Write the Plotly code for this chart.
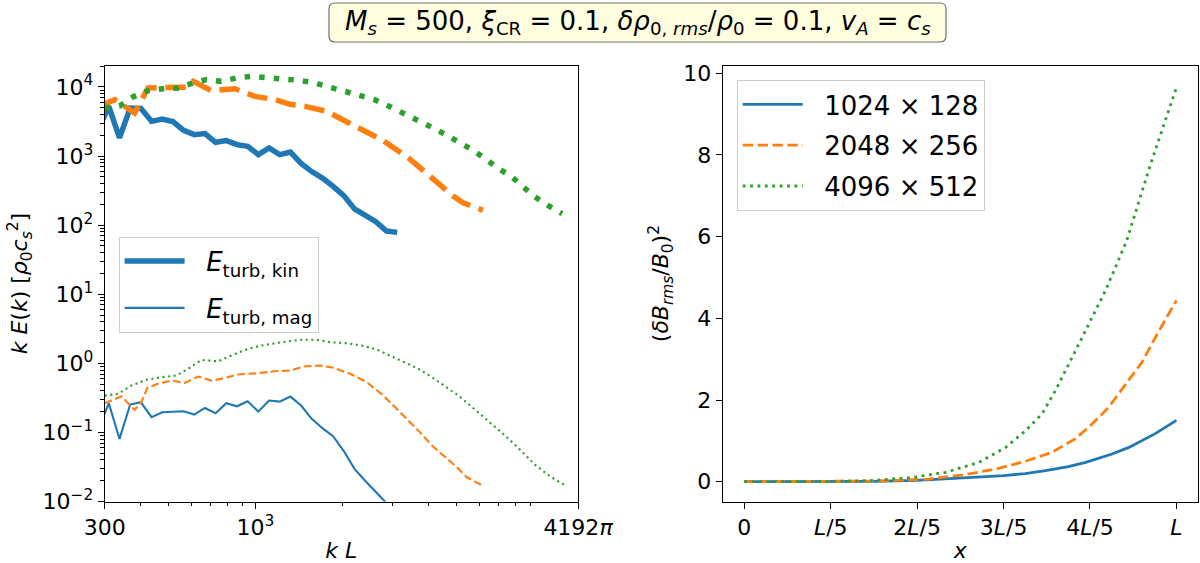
import math
import plotly.graph_objects as go

# ---------------- data: left panel (spectra) ----------------
k_1024 = [284.6, 310, 337.6, 367.7, 400.5, 436.2, 475.0, 517.3, 563.4, 613.6, 668.3, 727.8,
          792.7, 863.3, 940.2, 1024.0, 1115.2, 1214.6, 1322.8, 1440.7, 1569.1, 1708.9,
          1861.2, 2027.0, 2207.6, 2404.3, 2618.5, 2851.8, 3105.9]
ekin_1024 = [2400, 5240, 1830, 4950, 4900, 3180, 3440, 3150, 2350, 2040, 2110, 1580,
             1670, 1460, 1380, 1047, 1310, 1050, 1140, 780, 596, 480,
             364, 268, 172, 141, 112, 82, 78.5]
emag_1024 = [0.11, 0.264, 0.0805, 0.253, 0.273, 0.166, 0.196, 0.2, 0.202, 0.181, 0.226, 0.189,
             0.264, 0.239, 0.282, 0.2, 0.289, 0.279, 0.33, 0.245, 0.157, 0.115,
             0.088, 0.0538, 0.0297, 0.02, 0.0137, 0.0094, 0.0065]

k_kin_2048 = [285, 325, 381, 424, 500, 575, 608, 703, 848, 995, 1168, 1320, 1488, 1770,
              2219, 2747, 3399, 4150, 4869, 5276, 6162]
ekin_2048 = [5200, 6550, 4200, 9680, 9850, 9900, 12050, 8840, 9440, 7310, 6550, 5600, 5240, 4436,
             2692, 1726, 940, 455, 261, 209, 164]
k_mag_2048 = [300, 343, 381, 402, 422, 459, 511, 569, 633, 704, 762, 871, 1022, 1167, 1320,
              1469, 1677, 1866, 2133, 2437, 2783, 3097, 3396, 3732, 4099, 4497, 4937, 5420, 6061]
emag_2048 = [0.264, 0.333, 0.212, 0.273, 0.442, 0.505, 0.563, 0.521, 0.644, 0.563, 0.596, 0.689,
             0.719, 0.769, 0.786, 0.9, 0.93, 0.861, 0.705, 0.532, 0.341, 0.219, 0.148, 0.1,
             0.0644, 0.0461, 0.033, 0.0224, 0.0175]

k_kin_4096 = [300, 338, 376, 424, 478, 539, 608, 676, 762, 859, 969, 1107, 1248, 1422, 1603,
              1807, 2037, 2297, 2590, 2912, 3266, 3634, 4074, 4529, 5069, 5642, 6273, 6924,
              7720, 8462, 9277, 10330, 11600]
ekin_4096 = [4965, 5300, 7160, 8840, 9440, 9680, 11430, 12760, 12050, 13490, 14230, 13770, 13180,
             12470, 11430, 9870, 8630, 7550, 6550, 5240, 4207, 3365, 2636, 2088, 1634, 1239,
             917, 673, 508, 365, 261, 194, 146.6]
k_mag_4096 = [300, 334, 371, 418, 472, 532, 584, 650, 743, 825, 943, 1049, 1199, 1352, 1430,
              1634, 1817, 2077, 2341, 2640, 2977, 3310, 3681, 4099, 4557, 5069, 5566, 6110,
              6706, 7423, 8337, 9419, 10645, 11953]
emag_4096 = [0.341, 0.361, 0.477, 0.577, 0.629, 0.666, 0.832, 1.12, 1.07, 1.3, 1.62, 1.81, 1.98,
             2.09, 2.19, 2.19, 2.02, 1.95, 1.81, 1.58, 1.26, 1.04, 0.832, 0.629, 0.461, 0.341,
             0.245, 0.175, 0.1255, 0.0869, 0.055, 0.033, 0.0224, 0.0169]

# ---------------- data: right panel (dB^2 vs x, x in units of L) ----------------
x_1024 = [0, 0.1, 0.2, 0.3, 0.4, 0.466, 0.55, 0.601, 0.65, 0.697, 0.75, 0.79, 0.851, 0.89, 0.95, 1.0]
db_1024 = [0, 0, 0.002, 0.008, 0.03, 0.065, 0.11, 0.147, 0.2, 0.27, 0.37, 0.473, 0.678, 0.84, 1.17, 1.5]
x_2048 = [0, 0.1, 0.2, 0.3, 0.35, 0.427, 0.504, 0.582, 0.651, 0.712, 0.766, 0.805, 0.843, 0.89,
          0.92, 0.956, 1.0]
db_2048 = [0, 0, 0.003, 0.015, 0.03, 0.065, 0.163, 0.31, 0.5, 0.72, 1.05, 1.41, 1.82, 2.48,
           2.92, 3.62, 4.44]
x_4096 = [0, 0.1, 0.2, 0.3, 0.389, 0.466, 0.543, 0.605, 0.651, 0.689, 0.72, 0.759, 0.797, 0.836,
          0.885, 0.938, 1.0]
db_4096 = [0, 0, 0.005, 0.03, 0.106, 0.23, 0.473, 0.84, 1.25, 1.66, 2.23, 3.05, 3.87, 4.68,
           5.9, 7.7, 9.65]

res_labels = ["1024 × 128", "2048 × 256", "4096 × 512"]
x_tickvals = [0, 0.2, 0.4, 0.6, 0.8, 1.0]
x_ticktext = ["0", "<i>L</i>/5", "2<i>L</i>/5", "3<i>L</i>/5", "4<i>L</i>/5", "<i>L</i>"]
k_tickvals = [300, 1000, 4192 * math.pi]
k_ticktext = ["300", "10<sup>3</sup>", "4192<i>π</i>"]
e_tickvals = [1e-2, 1e-1, 1, 10, 100, 1000, 1e4]
e_ticktext = ["10<sup>−2</sup>", "10<sup>−1</sup>", "10<sup>0</sup>", "10<sup>1</sup>",
              "10<sup>2</sup>", "10<sup>3</sup>", "10<sup>4</sup>"]

BLUE, ORANGE, GREEN = "#1f77b4", "#ff7f0e", "#2ca02c"
FONT = "DejaVu Sans"
GAP = "\u00a0\u00a0"

W_KIN, W_MAG, W_R = 5.5, 2.1, 2.8
def dash(w, kind):
    if kind == "solid":
        return "solid"
    if kind == "dash":
        return f"{3.7*w:.1f}px,{1.6*w:.1f}px"
    return f"{1.0*w:.1f}px,{1.65*w:.1f}px"

fig = go.Figure()

fig.add_trace(go.Scatter(x=k_1024, y=ekin_1024, mode="lines", name=GAP + "<i>E</i><sub>turb, kin</sub>",
                         line=dict(color=BLUE, width=W_KIN, dash="solid"), legend="legend",
                         legendgroup="a", xaxis="x", yaxis="y"))
fig.add_trace(go.Scatter(x=k_kin_2048, y=ekin_2048, mode="lines", showlegend=False,
                         line=dict(color=ORANGE, width=W_KIN, dash=dash(W_KIN, "dash")), xaxis="x", yaxis="y"))
fig.add_trace(go.Scatter(x=k_kin_4096, y=ekin_4096, mode="lines", showlegend=False,
                         line=dict(color=GREEN, width=W_KIN, dash=dash(W_KIN, "dot")), xaxis="x", yaxis="y"))
fig.add_trace(go.Scatter(x=k_1024, y=emag_1024, mode="lines", name=GAP + "<i>E</i><sub>turb, mag</sub>",
                         line=dict(color=BLUE, width=W_MAG, dash="solid"), legend="legend",
                         legendgroup="b", xaxis="x", yaxis="y"))
fig.add_trace(go.Scatter(x=k_mag_2048, y=emag_2048, mode="lines", showlegend=False,
                         line=dict(color=ORANGE, width=W_MAG, dash=dash(W_MAG, "dash")), xaxis="x", yaxis="y"))
fig.add_trace(go.Scatter(x=k_mag_4096, y=emag_4096, mode="lines", showlegend=False,
                         line=dict(color=GREEN, width=W_MAG, dash=dash(W_MAG, "dot")), xaxis="x", yaxis="y"))

for xs, ys, col, kind, lab, g in [(x_1024, db_1024, BLUE, "solid", res_labels[0], "c"),
                                  (x_2048, db_2048, ORANGE, "dash", res_labels[1], "d"),
                                  (x_4096, db_4096, GREEN, "dot", res_labels[2], "e")]:
    fig.add_trace(go.Scatter(x=xs, y=ys, mode="lines", name=GAP + lab, legend="legend2", legendgroup=g,
                             line=dict(color=col, width=W_R, dash=dash(W_R, kind)),
                             xaxis="x2", yaxis="y2"))

H = 563.0
ydom = [(H - 501.5) / H, (H - 65.7) / H]
axis_common = dict(showline=True, linecolor="black", linewidth=1.1, mirror=True, ticks="outside",
                   ticklen=6, tickwidth=1.1, tickcolor="black", showgrid=False, zeroline=False,
                   automargin=False,
                   tickfont=dict(family=FONT, size=22, color="black"))

fig.update_layout(
    width=1200, height=563, autosize=False,
    margin=dict(l=0, r=0, t=0, b=0, pad=0),
    paper_bgcolor="white", plot_bgcolor="white",
    font=dict(family=FONT, color="black"),
    xaxis=dict(domain=[104.7 / 1200, 578 / 1200], type="log",
               range=[math.log10(300), math.log10(4192 * math.pi)],
               tickmode="array", tickvals=k_tickvals, ticktext=k_ticktext,
               minor=dict(tickmode="array",
                          tickvals=[400, 500, 600, 700, 800, 900, 2000, 3000, 4000, 5000, 6000, 7000, 8000, 9000],
                          ticks="outside", ticklen=3.5, tickwidth=0.9, tickcolor="black"),
               title=dict(text="<i>k L</i>", font=dict(family=FONT, size=22), standoff=6),
               anchor="y", **axis_common),
    yaxis=dict(domain=ydom, type="log", range=[-2, math.log10(2.03e4)],
               tickmode="array", tickvals=e_tickvals, ticktext=e_ticktext,
               minor=dict(tickmode="array",
                          tickvals=[m * 10 ** e for e in range(-2, 5) for m in range(2, 10)],
                          ticks="outside", ticklen=3.5, tickwidth=0.9, tickcolor="black"),
               title=dict(text="<i>k E</i>(<i>k</i>) [<i>ρ</i><sub>0</sub><i>c</i><sub><i>s</i></sub><sup>2</sup>]",
                          font=dict(family=FONT, size=22), standoff=8),
               anchor="x", **axis_common),
    xaxis2=dict(domain=[722.7 / 1200, 1198 / 1200], range=[-0.05, 1.05],
                tickmode="array", tickvals=x_tickvals, ticktext=x_ticktext,
                title=dict(text="<i>x</i>", font=dict(family=FONT, size=22), standoff=6),
                anchor="y2", **axis_common),
    yaxis2=dict(domain=ydom, range=[-0.485, 10.185], tickmode="array",
                tickvals=[0, 2, 4, 6, 8, 10], ticktext=["0", "2", "4", "6", "8", "10"],
                title=dict(text="(<i>δB</i><sub><i>rms</i></sub>/<i>B</i><sub>0</sub>)<sup>2</sup>",
                           font=dict(family=FONT, size=22), standoff=8),
                anchor="x2", **axis_common),
    legend=dict(x=118.6 / 1200, y=1 - 236.7 / H, xanchor="left", yanchor="top",
                bgcolor="rgba(255,255,255,0.8)", bordercolor="#cccccc", borderwidth=1,
                font=dict(family=FONT, size=26, color="black"), itemwidth=60,
                tracegroupgap=10, traceorder="grouped"),
    legend2=dict(x=736.7 / 1200, y=1 - 80 / H, xanchor="left", yanchor="top",
                 bgcolor="rgba(255,255,255,0.8)", bordercolor="#cccccc", borderwidth=1,
                 font=dict(family=FONT, size=26, color="black"), itemwidth=60,
                 tracegroupgap=4, traceorder="grouped"),
)

# title box (rounded rectangle) and title text
bx0, bx1, by0, by1, r = 329, 946, 3, 42, 6
def px(xp):
    return xp / 1200
def py(yp):
    return 1 - yp / H
path = (f"M {px(bx0 + r)},{py(by0)} L {px(bx1 - r)},{py(by0)} "
        f"Q {px(bx1)},{py(by0)} {px(bx1)},{py(by0 + r)} L {px(bx1)},{py(by1 - r)} "
        f"Q {px(bx1)},{py(by1)} {px(bx1 - r)},{py(by1)} L {px(bx0 + r)},{py(by1)} "
        f"Q {px(bx0)},{py(by1)} {px(bx0)},{py(by1 - r)} L {px(bx0)},{py(by0 + r)} "
        f"Q {px(bx0)},{py(by0)} {px(bx0 + r)},{py(by0)} Z")
fig.add_shape(type="path", path=path, xref="paper", yref="paper",
              fillcolor="#ffffe0", line=dict(color="#707070", width=1.2), layer="above")
fig.add_annotation(x=px((bx0 + bx1) / 2), y=py((by0 + by1) / 2), xref="paper", yref="paper",
                   xanchor="center", yanchor="middle", showarrow=False,
                   text=("<i>M</i><sub><i>s</i></sub> = 500, <i>ξ</i><sub>CR</sub> = 0.1, "
                         "<i>δρ</i><sub>0, <i>rms</i></sub>/<i>ρ</i><sub>0</sub> = 0.1, "
                         "<i>v</i><sub><i>A</i></sub> = <i>c</i><sub><i>s</i></sub>"),
                   font=dict(family=FONT, size=26, color="black"))

fig.write_html("out.html")
